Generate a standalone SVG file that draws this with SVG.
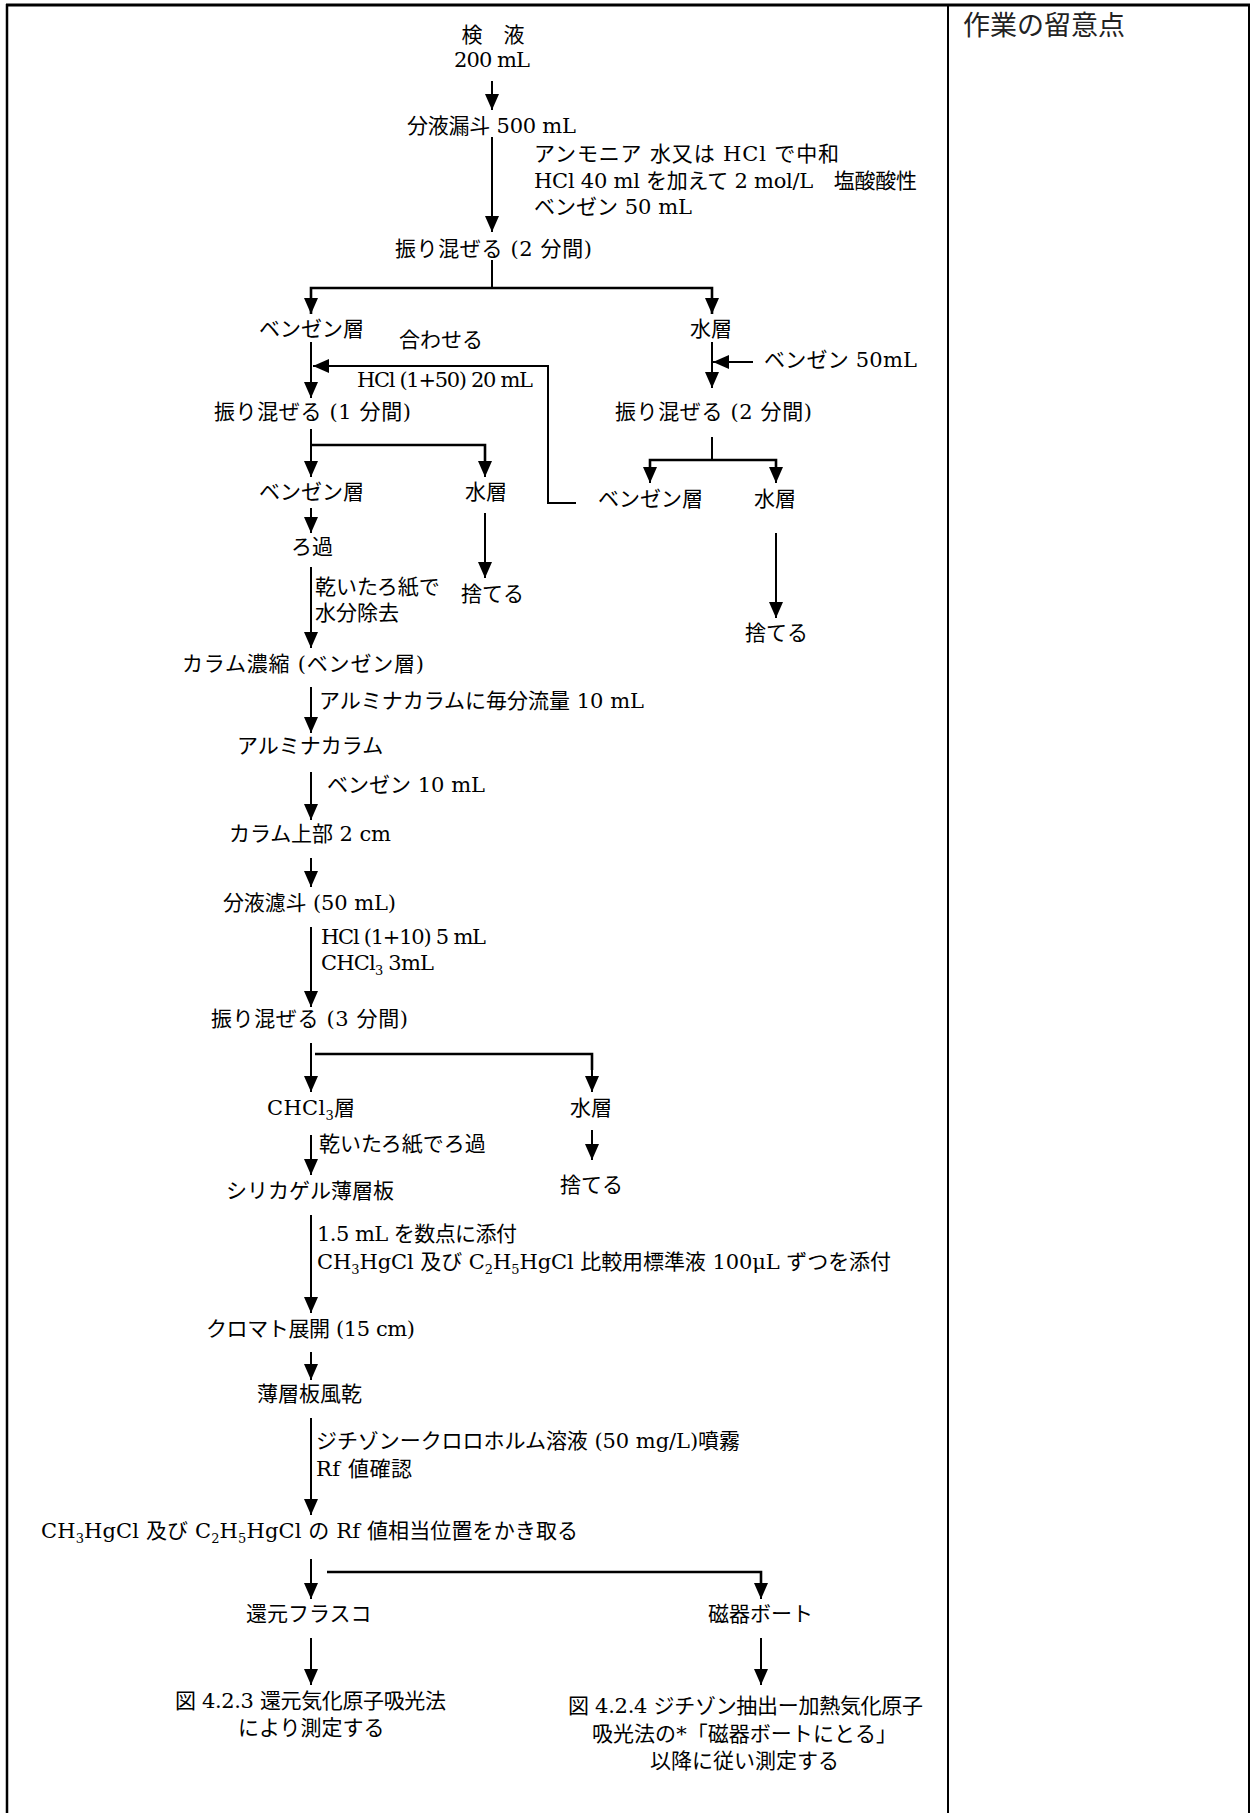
<svg xmlns="http://www.w3.org/2000/svg" width="1250" height="1813" viewBox="0 0 1250 1813">
<style>
text{font-family:"DejaVu Serif","Noto Sans CJK JP",serif;font-size:21px;fill:#000}
.hd{font-family:"Noto Sans CJK JP","Noto Sans",sans-serif;font-size:27px;fill:#222}
.c{fill:none;stroke:#000;stroke-width:2}
.a{fill:none;stroke:#000;stroke-width:2;marker-end:url(#ah)}
.b{fill:none;stroke:#000;stroke-width:2.6}
.fr{fill:none;stroke:#000}
.sub{font-size:13px}
</style>
<defs>
<marker id="ah" markerUnits="userSpaceOnUse" markerWidth="16" markerHeight="14" refX="16" refY="7" orient="auto">
<path d="M0,0 L16,7 L0,14 z" fill="#000"/>
</marker>
</defs>
<rect width="1250" height="1813" fill="#fff"/>
<g id="frame">
<line class="fr" x1="6" y1="5" x2="1250" y2="5" stroke-width="3"/>
<line class="fr" x1="7" y1="4" x2="7" y2="1813" stroke-width="2.5"/>
<line class="fr" x1="948" y1="4" x2="948" y2="1813" stroke-width="2"/>
<line class="fr" x1="1249" y1="4" x2="1249" y2="1813" stroke-width="2"/>
</g>
<g id="header"><text class="hd" x="963" y="35">作業の留意点</text></g>

<g id="connectors">
<line class="a" x1="492" y1="81" x2="492" y2="110"/>
<line class="a" x1="492" y1="137" x2="492" y2="232"/>
<line class="c" x1="492" y1="260" x2="492" y2="288"/>
<polyline class="b" points="311,314 311,288 712,288 712,314"/>
<line class="a" x1="311" y1="290" x2="311" y2="314"/>
<line class="a" x1="712" y1="290" x2="712" y2="314"/>
<line class="a" x1="311" y1="342" x2="311" y2="398"/>
<polyline class="c" points="576,503 548,503 548,366"/>
<line class="a" x1="549" y1="366" x2="313" y2="366"/>
<line class="a" x1="712" y1="342" x2="712" y2="388"/>
<line class="a" x1="753" y1="362" x2="713" y2="362"/>
<line class="a" x1="311" y1="429" x2="311" y2="477"/>
<polyline class="b" points="311,445 485,445 485,470"/>
<line class="a" x1="485" y1="450" x2="485" y2="477"/>
<line class="c" x1="712" y1="437" x2="712" y2="460"/>
<polyline class="b" points="650,470 650,460 776,460 776,470"/>
<line class="a" x1="650" y1="462" x2="650" y2="483"/>
<line class="a" x1="776" y1="462" x2="776" y2="483"/>
<line class="a" x1="311" y1="508" x2="311" y2="533"/>
<line class="a" x1="485" y1="513" x2="485" y2="578"/>
<line class="a" x1="776" y1="533" x2="776" y2="618"/>
<line class="a" x1="311" y1="567" x2="311" y2="648"/>
<line class="a" x1="311" y1="687" x2="311" y2="733"/>
<line class="a" x1="311" y1="772" x2="311" y2="820"/>
<line class="a" x1="311" y1="858" x2="311" y2="887"/>
<line class="a" x1="311" y1="927" x2="311" y2="1007"/>
<line class="a" x1="311" y1="1043" x2="311" y2="1092"/>
<polyline class="b" points="315,1054 592,1054 592,1070"/>
<line class="a" x1="592" y1="1056" x2="592" y2="1092"/>
<line class="a" x1="311" y1="1135" x2="311" y2="1175"/>
<line class="a" x1="592" y1="1130" x2="592" y2="1160"/>
<line class="a" x1="311" y1="1215" x2="311" y2="1313"/>
<line class="a" x1="311" y1="1352" x2="311" y2="1380"/>
<line class="a" x1="311" y1="1418" x2="311" y2="1515"/>
<line class="a" x1="311" y1="1559" x2="311" y2="1599"/>
<polyline class="b" points="327,1572 761,1572 761,1585"/>
<line class="a" x1="761" y1="1574" x2="761" y2="1599"/>
<line class="a" x1="311" y1="1638" x2="311" y2="1685"/>
<line class="a" x1="761" y1="1638" x2="761" y2="1685"/>
</g>

<g id="n-sample"><text x="493" y="42" text-anchor="middle">検　液</text><text x="454" y="67" textLength="76">200 mL</text></g>
<g id="n-funnel500"><text x="407" y="133" textLength="169">分液漏斗 500 mL</text></g>
<g id="n-note1">
<text x="534" y="161" textLength="305">アンモニア 水又は HCl で中和</text>
<text x="534" y="188" textLength="383">HCl 40 ml を加えて 2 mol/L　塩酸酸性</text>
<text x="534" y="214" textLength="158">ベンゼン 50 mL</text>
</g>
<g id="n-shake2"><text x="395" y="256" textLength="197">振り混ぜる (2 分間)</text></g>
<g id="n-benzene1"><text x="259" y="336">ベンゼン層</text></g>
<g id="n-water1"><text x="690" y="336">水層</text></g>
<g id="n-combine"><text x="399" y="347">合わせる</text></g>
<g id="n-hcl50"><text x="357" y="387" textLength="176">HCl (1+50) 20 mL</text></g>
<g id="n-benz50"><text x="764" y="367" textLength="153">ベンゼン 50mL</text></g>
<g id="n-shake1"><text x="214" y="419" textLength="197">振り混ぜる (1 分間)</text></g>
<g id="n-shake2b"><text x="615" y="419" textLength="197">振り混ぜる (2 分間)</text></g>
<g id="n-benzene2"><text x="259" y="499">ベンゼン層</text></g>
<g id="n-water2"><text x="465" y="499">水層</text></g>
<g id="n-benzene3"><text x="598" y="506">ベンゼン層</text></g>
<g id="n-water3"><text x="754" y="506">水層</text></g>
<g id="n-filter"><text x="291" y="554">ろ過</text></g>
<g id="n-discard1"><text x="461" y="601">捨てる</text></g>
<g id="n-discard2"><text x="745" y="640">捨てる</text></g>
<g id="n-dry"><text x="315" y="594">乾いたろ紙で</text><text x="315" y="620">水分除去</text></g>
<g id="n-colconc"><text x="182" y="671" textLength="242">カラム濃縮 (ベンゼン層)</text></g>
<g id="n-note2"><text x="319" y="708" textLength="325">アルミナカラムに毎分流量 10 mL</text></g>
<g id="n-alumina"><text x="237" y="753">アルミナカラム</text></g>
<g id="n-note3"><text x="327" y="792" textLength="158">ベンゼン 10 mL</text></g>
<g id="n-coltop"><text x="229" y="841" textLength="162">カラム上部 2 cm</text></g>
<g id="n-funnel50"><text x="223" y="910" textLength="173">分液濾斗 (50 mL)</text></g>
<g id="n-note4">
<text x="321" y="944" textLength="165">HCl (1+10) 5 mL</text>
<text x="321" y="970" textLength="113">CHCl<tspan class="sub" dy="5">3</tspan><tspan dy="-5"> 3mL</tspan></text>
</g>
<g id="n-shake3"><text x="211" y="1026" textLength="197">振り混ぜる (3 分間)</text></g>
<g id="n-chcl3"><text x="267" y="1115" textLength="88">CHCl<tspan class="sub" dy="5">3</tspan><tspan dy="-5">層</tspan></text></g>
<g id="n-water4"><text x="570" y="1115">水層</text></g>
<g id="n-note5"><text x="319" y="1151">乾いたろ紙でろ過</text></g>
<g id="n-discard3"><text x="560" y="1192">捨てる</text></g>
<g id="n-silica"><text x="226" y="1198">シリカゲル薄層板</text></g>
<g id="n-note6">
<text x="317" y="1241" textLength="200">1.5 mL を数点に添付</text>
<text x="317" y="1269" textLength="574">CH<tspan class="sub" dy="5">3</tspan><tspan dy="-5">HgCl 及び C</tspan><tspan class="sub" dy="5">2</tspan><tspan dy="-5">H</tspan><tspan class="sub" dy="5">5</tspan><tspan dy="-5">HgCl 比較用標準液 100μL ずつを添付</tspan></text>
</g>
<g id="n-chromato"><text x="206" y="1336" textLength="209">クロマト展開 (15 cm)</text></g>
<g id="n-airdry"><text x="257" y="1401">薄層板風乾</text></g>
<g id="n-note7">
<text x="316" y="1448" textLength="424">ジチゾンークロロホルム溶液 (50 mg/L)噴霧</text>
<text x="316" y="1476" textLength="96">Rf 値確認</text>
</g>
<g id="n-scrape"><text x="41" y="1538" textLength="537">CH<tspan class="sub" dy="5">3</tspan><tspan dy="-5">HgCl 及び C</tspan><tspan class="sub" dy="5">2</tspan><tspan dy="-5">H</tspan><tspan class="sub" dy="5">5</tspan><tspan dy="-5">HgCl の Rf 値相当位置をかき取る</tspan></text></g>
<g id="n-flask"><text x="246" y="1621">還元フラスコ</text></g>
<g id="n-boat"><text x="708" y="1621">磁器ボート</text></g>
<g id="n-fig423"><text x="175" y="1708" textLength="271">図 4.2.3 還元気化原子吸光法</text><text x="238" y="1735">により測定する</text></g>
<g id="n-fig424">
<text x="568" y="1713" textLength="355">図 4.2.4 ジチゾン抽出ー加熱気化原子</text>
<text x="592" y="1741" textLength="305">吸光法の*「磁器ボートにとる」</text>
<text x="650" y="1768" textLength="189">以降に従い測定する</text>
</g>
</svg>
